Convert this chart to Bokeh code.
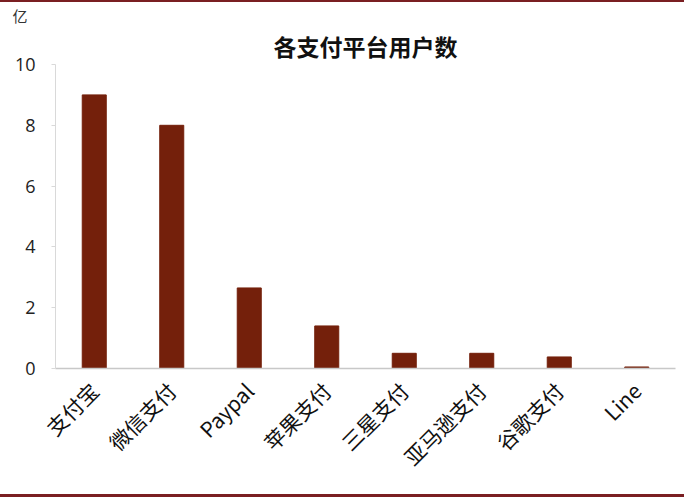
import math
from bokeh.plotting import figure
from bokeh.models import ColumnDataSource, Title, FixedTicker, Range1d
from bokeh.embed import file_html
from bokeh.resources import INLINE

platforms = ["支付宝", "微信支付", "Paypal", "苹果支付", "三星支付", "亚马逊支付", "谷歌支付", "Line"]
users = [9.0, 8.0, 2.65, 1.4, 0.5, 0.5, 0.38, 0.05]
y_ticks = [0, 2, 4, 6, 8, 10]
title_text = "各支付平台用户数"
unit_text = "亿"

BAR = "#74200B"
BORDER = "#7A1F22"

src = ColumnDataSource(dict(x=platforms, y=users))

p = figure(x_range=platforms, y_range=Range1d(0, 10), width=684, height=497,
           output_backend="svg", toolbar_location=None, title=None,
           min_border_left=55, min_border_right=9, min_border_top=62, min_border_bottom=131)
p.vbar(x="x", top="y", width=0.31, source=src, color=BAR)

main = Title(text=title_text, align="center", text_font="Noto Sans CJK SC",
             text_font_size="23px", text_font_style="bold", text_color="#111111",
             standoff=3)
unit = Title(text=unit_text, align="left", offset=-43, text_font="Noto Sans CJK SC",
             text_font_size="15px", text_font_style="normal", text_color="#333333",
             standoff=0)
p.add_layout(main, "above")
p.add_layout(unit, "above")

p.xgrid.visible = False
p.ygrid.visible = False
p.outline_line_color = None
p.background_fill_color = "white"
p.border_fill_color = "white"

p.yaxis.ticker = FixedTicker(ticks=y_ticks)
p.yaxis.axis_line_color = "#D9D9D9"
p.yaxis.major_tick_line_color = "#D9D9D9"
p.yaxis.major_tick_out = 4
p.yaxis.major_tick_in = 0
p.yaxis.minor_tick_line_color = None
p.yaxis.major_label_text_font = "Open Sans"
p.yaxis.major_label_text_font_size = "18px"
p.yaxis.major_label_text_color = "#222222"
p.yaxis.major_label_standoff = 16

p.xaxis.axis_line_color = "#C8C8C8"
p.xaxis.axis_line_width = 1.5
p.xaxis.major_tick_line_color = None
p.xaxis.minor_tick_line_color = None
p.xaxis.major_label_orientation = math.pi / 4
p.xaxis.major_label_text_font = "Noto Sans CJK SC"
p.xaxis.major_label_text_font_size = "21px"
p.xaxis.major_label_text_color = "#111111"
p.xaxis.major_label_standoff = 12

p.styles = {"border-top": f"2px solid {BORDER}", "border-bottom": f"3px solid {BORDER}"}

open("out.html", "w").write(file_html(p, INLINE))
